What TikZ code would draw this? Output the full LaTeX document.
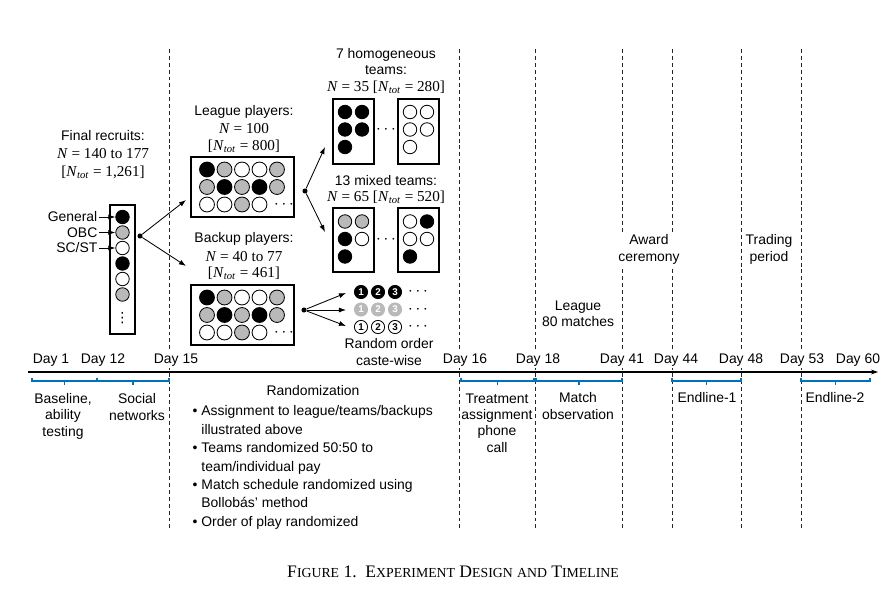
\documentclass[tikz,border=0pt]{standalone}
\usepackage{fontspec}
\setmainfont{Liberation Sans}
\newfontfamily\tnr{Liberation Serif}
\newfontfamily\djv{DejaVu Sans}
\usetikzlibrary{arrows.meta}
\definecolor{midgray}{RGB}{185,185,185}
\definecolor{spanblue}{RGB}{0,114,189}
\newcommand{\Nit}{\textit{N}}
\newcommand{\Ntot}{\textit{N}\textsubscript{\textit{tot}}}
\newcommand{\capsm}[1]{{\fontsize{9.8}{12}\selectfont #1}}

\begin{document}
\begin{tikzpicture}[x=0.025cm,y=-0.025cm,
	txt/.style={font=\fontsize{9.9}{11.7}\selectfont,align=center,inner sep=1pt},
	ser/.style={font=\tnr\fontsize{10.8}{12}\selectfont,inner sep=1pt},
	box/.style={draw,line width=0.75pt},
	ball/.style={circle,draw,line width=0.6pt,inner sep=0pt,minimum size=10.6pt},
	sball/.style={ball,minimum size=9.6pt},
	numball/.style={circle,draw,line width=0.6pt,inner sep=0pt,minimum size=9.4pt,font=\fontsize{7}{7}\selectfont\bfseries},
	etc/.style={inner sep=0pt,font=\fontsize{12}{12}\selectfont},
	splitdot/.style={circle,fill,inner sep=0pt,minimum size=3.6pt},
	arr/.style={-{Latex[length=5pt,width=3.6pt]},line width=0.6pt},
	vline/.style={dash pattern=on 2.8pt off 2.1pt,line width=0.7pt,black!85},
	span/.style={spanblue,line width=1.1pt}]
\useasboundingbox (0,0) rectangle (888,591);

% time markers and axis
\foreach \x in {169,459,535,622,672,741,801}
	\draw[vline] (\x,49) -- (\x,528);
\draw[line width=0.8pt,-{Stealth[length=5pt,width=3.5pt]}] (28,372) -- (878,372);
\foreach \x/\d in {51/1,103/12,176/15,465/16,538/18,622/41,676/44,741/48,802/53,858/60}
	\node[txt,fill=white] (day\d) at (\x,360) {Day \d};
\foreach \a/\b in {32/97,97/169,461/534,536/622,672/741,801/870}
	\draw[span] (\a,377.5) -- (\a,381) -- (\b,381) -- (\b,377.5) ({(\a+\b)/2},381) -- ({(\a+\b)/2},384.5);

% phases
\node[txt] (baseline) at (63,416) {Baseline,\\ ability\\ testing};
\node[txt] (social) at (137,407) {Social\\ networks};
\node[txt] (randtitle) at (313,391) {Randomization};
\node[txt,align=left,anchor=north west,font=\fontsize{9.9}{13.1}\selectfont] (randlist) at (191,404) {\textbullet\ Assignment to league/teams/backups\\
	\phantom{\textbullet\ }illustrated above\\
	\textbullet\ Teams randomized 50:50 to\\
	\phantom{\textbullet\ }team/individual pay\\
	\textbullet\ Match schedule randomized using\\
	\phantom{\textbullet\ }Bollobás' method\\
	\textbullet\ Order of play randomized};
\node[txt] (treatment) at (497,423) {Treatment\\ assignment\\ phone\\ call};
\node[txt] (observe) at (578,406) {Match\\ observation};
\node[txt] (endline1) at (707,398) {Endline-1};
\node[txt] (endline2) at (835,398) {Endline-2};
\node[txt] (leaguephase) at (578,314) {League\\ 80 matches};
\node[txt,fill=white,inner sep=2pt] (award) at (649,249.5) {Award\\ ceremony};
\node[txt] (trading) at (769,249.5) {Trading\\ period};

% recruits
\node[txt] (recruits) at (103,136) {Final recruits:};
\node[ser] (recruitsN) at (103,154) {\Nit{} = 140 to 177};
\node[ser] (recruitsT) at (103,172) {[\Ntot{} = 1,261]};
\draw[box] (110,205) rectangle (135,334);
\foreach \c [count=\i] in {black,midgray,white,black,white,midgray}
	\node[sball,fill=\c] (caste\i) at (122.5,{201.5+15.5*\i}) {};
\node[inner sep=0pt,font=\djv\fontsize{10}{10}\selectfont] (castedots) at (122.5,318) {⋮};
\node[txt,anchor=east] (general) at (99,217) {General};
\node[txt,anchor=east] (obc) at (99,232.5) {OBC};
\node[txt,anchor=east] (scst) at (99,248) {SC/ST};
\draw[arr] (general) -- (caste1);
\draw[arr] (obc) -- (caste2);
\draw[arr] (scst) -- (caste3);
\node[splitdot] (split1) at (140,236) {};
\coordinate (toleague) at (186,200);
\coordinate (tobackup) at (186,266);
\draw[arr] (split1) -- (toleague);
\draw[arr] (split1) -- (tobackup);

% league and backup players
\node[txt] (leaguetitle) at (244,112) {League players:};
\node[ser] (leagueN) at (244,129) {\Nit{} = 100};
\node[ser] (leagueT) at (244,146) {[\Ntot{} = 800]};
\node[txt] (backuptitle) at (244,239) {Backup players:};
\node[ser] (backupN) at (244,256.5) {\Nit{} = 40 to 77};
\node[ser] (backupT) at (244,273) {[\Ntot{} = 461]};
\foreach \bx/\top in {lg/157,bk/285}{
	\draw[box] (191,\top) rectangle (294,\top+60);
	\foreach \c [count=\i] in {black,midgray,white,white,midgray}
		\node[ball,fill=\c] (\bx a\i) at ({189.5+17.5*\i},{\top+12.5}) {};
	\foreach \c [count=\i] in {midgray,black,midgray,black,midgray}
		\node[ball,fill=\c] (\bx b\i) at ({189.5+17.5*\i},{\top+30}) {};
	\foreach \c [count=\i] in {white,white,midgray,white}
		\node[ball,fill=\c] (\bx c\i) at ({189.5+17.5*\i},{\top+47.5}) {};
	\node[etc] (\bx dots) at (284,{\top+47.5}) {$\cdots$};
}

% teams
\node[splitdot] (split2) at (305,191) {};
\coordinate (tohomog) at (325,147);
\coordinate (tomixed) at (325,232);
\draw[arr] (split2) -- (tohomog);
\draw[arr] (split2) -- (tomixed);
\node[txt] (homogtitle) at (386,61.5) {7 homogeneous\\ teams:};
\node[ser] (homogN) at (386,87) {\Nit{} = 35 [\Ntot{} = 280]};
\draw[box] (333,99) rectangle (374,164);
\draw[box] (398,99) rectangle (439,164);
\foreach \x/\y [count=\i] in {345/112,362/112,345/129.5,362/129.5,345/147}{
	\node[sball,fill=black] (homb\i) at (\x,\y) {};
	\node[sball,fill=white] (homw\i) at (\x+65,\y) {};
}
\node[etc] (homogdots) at (386,130) {$\cdots$};
\node[txt] (mixedtitle) at (386,181) {13 mixed teams:};
\node[ser] (mixedN) at (386,197) {\Nit{} = 65 [\Ntot{} = 520]};
\draw[box] (333,208) rectangle (374,272);
\draw[box] (398,208) rectangle (439,272);
\foreach \x/\y/\cl/\cr [count=\i] in {345/221.5/midgray/white,362/221.5/midgray/black,345/239/black/white,362/239/white/white,345/256.5/black/black}{
	\node[sball,fill=\cl] (mixl\i) at (\x,\y) {};
	\node[sball,fill=\cr] (mixr\i) at (\x+65,\y) {};
}
\node[etc] (mixeddots) at (386,240) {$\cdots$};

% backup order
\node[splitdot] (split3) at (304,310) {};
\coordinate (torow1) at (346,293);
\coordinate (torow2) at (346,310);
\coordinate (torow3) at (346,326);
\draw[arr] (split3) -- (torow1);
\draw[arr] (split3) -- (torow2);
\draw[arr] (split3) -- (torow3);
\foreach \y/\f/\d/\t [count=\r] in {292/black/black/white,309.5/midgray/midgray/white,327/white/black/black}{
	\foreach \n in {1,2,3}
		\node[numball,fill=\f,draw=\d,text=\t] (num\r\n) at ({344+17*\n},\y) {\n};
	\node[etc] (numdots\r) at (418,\y) {$\cdots$};
}
\node[txt] (randomorder) at (389,352) {Random order\\ caste-wise};

% caption
\node[font=\tnr\fontsize{12.5}{14}\selectfont] (caption) at (453,572) {F\capsm{IGURE} 1.\ \ E\capsm{XPERIMENT}\ D\capsm{ESIGN}\ \capsm{AND}\ T\capsm{IMELINE}};
\end{tikzpicture}
\end{document}
